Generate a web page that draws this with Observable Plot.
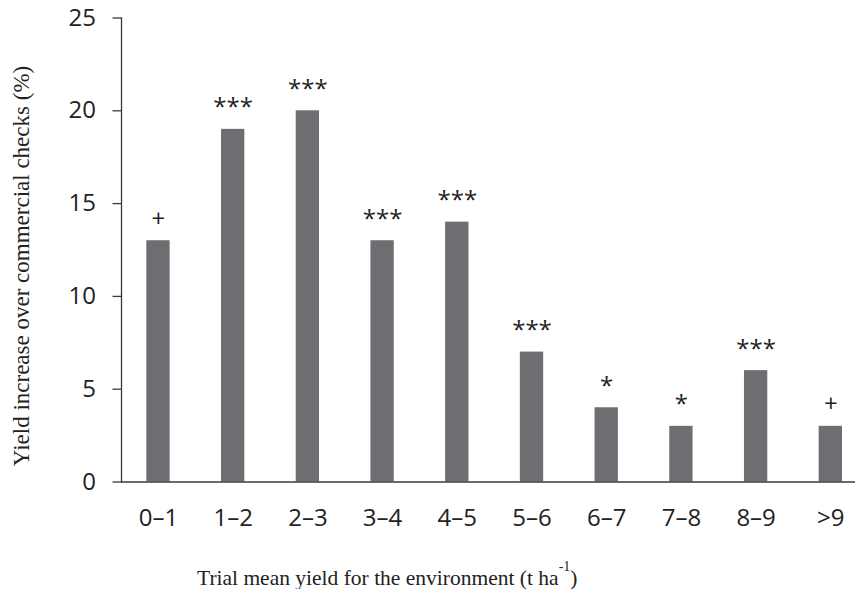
<!DOCTYPE html>
<html>
<head>
<meta charset="utf-8">
<script src="https://cdn.jsdelivr.net/npm/d3@7"></script>
<script src="https://cdn.jsdelivr.net/npm/@observablehq/plot@0.6"></script>
<style>
  html, body { margin: 0; padding: 0; background: #fff; }
  #chart svg { display: block; }
</style>
</head>
<body>
<div id="chart"></div>
<script>
const categories = ["0–1", "1–2", "2–3", "3–4", "4–5", "5–6", "6–7", "7–8", "8–9", ">9"];
const values = [13, 19, 20, 13, 14, 7, 4, 3, 6, 3];
const significance = ["+", "***", "***", "***", "***", "***", "*", "*", "***", "+"];
const yTicks = [0, 5, 10, 15, 20, 25];
const yTitle = "Yield increase over commercial checks (%)";
const xTitleMain = "Trial mean yield for the environment (t ha";
const xTitleSup = "-1";
const xTitleEnd = ")";

const data = categories.map((c, i) => ({cat: c, value: values[i], sig: significance[i]}));

const axisColor = "#3a3a3a";
const textColor = "#222";
const sans = "'Open Sans', sans-serif";
const serif = "'Liberation Serif', 'Times New Roman', serif";

const chart = Plot.plot({
  width: 855,
  height: 589,
  marginLeft: 121,
  marginRight: 0,
  marginTop: 17.5,
  marginBottom: 107.5,
  style: {background: "#fff", overflow: "visible"},
  x: {domain: categories, range: [120.7, 867.6], paddingInner: 0.688, paddingOuter: 0.343, round: false, label: null},
  y: {domain: [0, 25], label: null},
  marks: [
    Plot.barY(data, {x: "cat", y: "value", fill: "#6d6e71"}),
    Plot.text(data, {x: "cat", y: "value", text: "sig", dy: -14, lineAnchor: "bottom",
      fontSize: 24, fontFamily: sans, fill: textColor}),
    Plot.ruleY([0], {stroke: axisColor, strokeWidth: 1.3}),
    Plot.frame({anchor: "left", stroke: axisColor, strokeWidth: 1.3}),
    Plot.axisY({ticks: yTicks, tickSize: 8.5, tickPadding: 17, fontSize: 24, fontFamily: sans,
      stroke: axisColor, strokeWidth: 1.3, fill: textColor, label: null}),
    Plot.axisX({tickSize: 0, tickPadding: 27, fontSize: 24, fontFamily: sans,
      fill: textColor, label: null})
  ]
});

document.getElementById("chart").appendChild(chart);

const svg = d3.select(chart);
svg.append("text")
  .attr("transform", "translate(29,266) rotate(-90)")
  .attr("text-anchor", "middle")
  .style("font-family", serif)
  .style("font-size", "23px")
  .attr("fill", textColor)
  .text(yTitle);

const xt = svg.append("text")
  .attr("x", 197)
  .attr("y", 585)
  .attr("text-anchor", "start")
  .style("font-family", serif)
  .style("font-size", "21.5px")
  .attr("fill", textColor);
xt.append("tspan").text(xTitleMain);
xt.append("tspan").attr("dy", -14).style("font-size", "14px").text(xTitleSup);
xt.append("tspan").attr("dy", 14).text(xTitleEnd);
</script>
</body>
</html>
